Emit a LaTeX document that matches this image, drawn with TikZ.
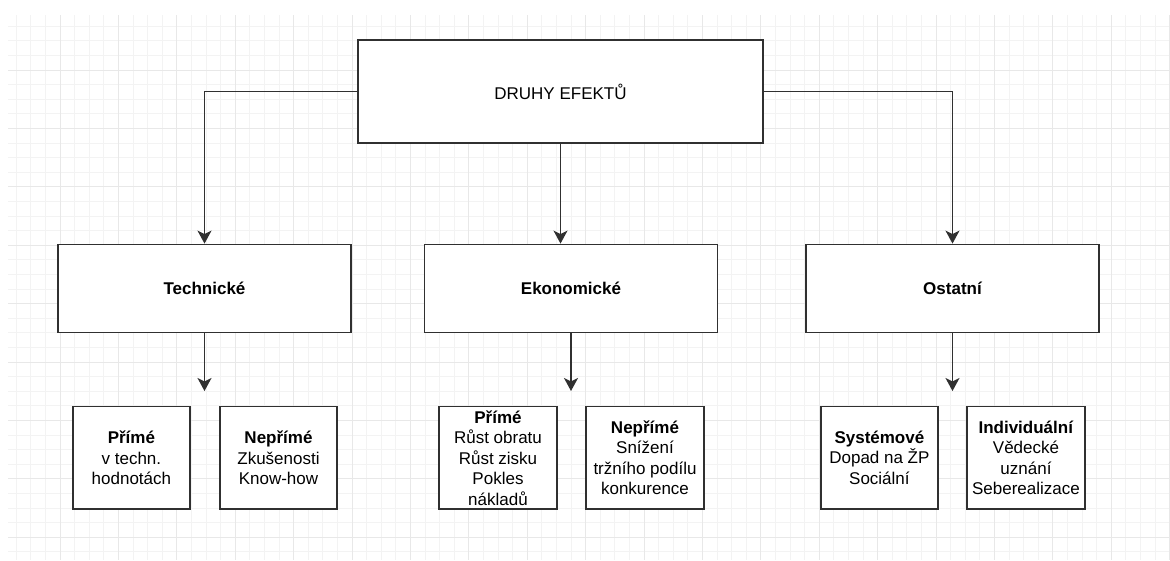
\documentclass[tikz,border=0pt]{standalone}
\usepackage{fontspec}
\setmainfont{Liberation Sans}
\usetikzlibrary{arrows.meta}
\definecolor{gridminor}{HTML}{F3F3F3}
\definecolor{gridmajor}{HTML}{E8E8E8}
\definecolor{linec}{HTML}{303030}
\begin{document}
\begin{tikzpicture}[x=1pt,y=-1pt,
  box/.style={draw=linec, line width=1.8pt, fill=white, inner sep=0pt, align=center, text=black},
  topbox/.style={box, minimum width=405pt, minimum height=103pt, font=\fontsize{17}{20}\selectfont},
  midbox/.style={box, minimum width=293pt, minimum height=88pt, font=\fontsize{17}{20}\selectfont\bfseries},
  leafbox/.style={box, minimum width=117.5pt, minimum height=102.5pt, font=\fontsize{17}{20.5}\selectfont},
  conn/.style={draw=linec, line width=1.5pt, -{Stealth[length=13pt,width=14pt,inset=3.5pt]}},
  gminor/.style={draw=gridminor, line width=0.8pt},
  gmajor/.style={draw=gridmajor, line width=0.9pt}
]
\useasboundingbox (0,0) rectangle (1170,560);
\fill[white] (0,0) rectangle (1170,560);
\begin{scope}
  \clip (8,15) rectangle (1170,560);
  \foreach \i in {1,...,80} { \draw[gminor] ({1.6+14.6*\i},15) -- ({1.6+14.6*\i},560); }
  \foreach \i in {1,...,37} { \draw[gminor] (8,{11.6+14.6*\i}) -- (1170,{11.6+14.6*\i}); }
  \foreach \j in {1,...,20} { \draw[gmajor] ({1.6+58.4*\j},15) -- ({1.6+58.4*\j},560); }
  \foreach \j in {1,...,9} { \draw[gmajor] (8,{11.6+58.4*\j}) -- (1170,{11.6+58.4*\j}); }
\end{scope}

\node[topbox] (top) at (560.5,91.5) {DRUHY EFEKTŮ};

\node[midbox] (tech) at (204.5,288.5) {Technické};
\node[midbox] (ekon) at (571,288.5) {Ekonomické};
\node[midbox] (ost) at (952.5,288.5) {Ostatní};

\node[leafbox] (tp) at (131.4,457.75) {\textbf{Přímé}\\v techn.\\hodnotách};
\node[leafbox] (tn) at (278.5,457.75) {\textbf{Nepřímé}\\Zkušenosti\\Know-how};
\node[leafbox] (ep) at (498,457.75) {\textbf{Přímé}\\Růst obratu\\Růst zisku\\Pokles\\nákladů};
\node[leafbox] (en) at (645,457.75) {\textbf{Nepřímé}\\Snížení\\tržního podílu\\konkurence};
\node[leafbox] (os) at (879.4,457.75) {\textbf{Systémové}\\Dopad na ŽP\\Sociální};
\node[leafbox] (oi) at (1026,457.75) {\textbf{Individuální}\\Vědecké\\uznání\\Seberealizace};

\draw[conn] (top.west) -| (tech.north);
\draw[conn] (top.south) -- (top.south |- ekon.north);
\draw[conn] (top.east) -| (ost.north);

\coordinate (ta) at (204.5,391);
\coordinate (ea) at (571,391);
\coordinate (oa) at (952.5,391);
\draw[conn] (tech.south) -- (ta);
\draw[conn] (ekon.south) -- (ea);
\draw[conn] (ost.south) -- (oa);
\end{tikzpicture}
\end{document}
